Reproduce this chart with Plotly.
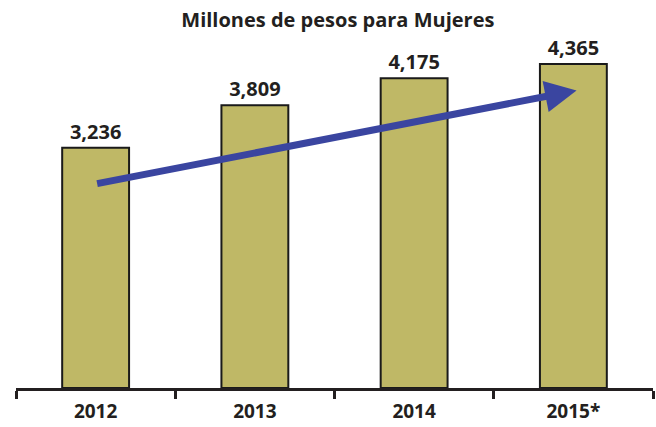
import plotly.graph_objects as go

years = ["2012", "2013", "2014", "2015*"]
amounts = [3236, 3809, 4175, 4365]

# trend arrow endpoints (category index, value)
arrow_start = (0.0, 2750)
arrow_end = (3.02, 4010)

bar_color = "#BFB866"
arrow_color = "#3A45A0"
text_color = "#231F20"
font_family = "Open Sans, Noto Sans, sans-serif"

fig = go.Figure(
    go.Bar(
        x=years,
        y=amounts,
        width=0.42,
        marker=dict(color=bar_color, line=dict(color="#1A1A1A", width=2)),
        text=[f"{v:,}" for v in amounts],
        textposition="outside",
        cliponaxis=False,
        textfont=dict(family=font_family, size=20, color=text_color, weight="bold"),
    )
)

fig.add_annotation(
    x=arrow_end[0], y=arrow_end[1],
    ax=arrow_start[0], ay=arrow_start[1],
    xref="x", yref="y", axref="x", ayref="y",
    showarrow=True, arrowhead=2, arrowsize=0.9, arrowwidth=7,
    arrowcolor=arrow_color, text="",
)

fig.update_layout(
    width=656, height=427,
    margin=dict(l=16, r=3, t=60, b=39),
    paper_bgcolor="white", plot_bgcolor="white",
    showlegend=False,
    title=dict(
        text="Millones de pesos para Mujeres",
        x=0.515, xanchor="center", y=0.953, yanchor="middle",
        font=dict(family=font_family, size=20, color=text_color, weight="bold"),
    ),
    xaxis=dict(
        type="category", range=[-0.5, 3.5],
        showline=True, linecolor="#231F20", linewidth=3,
        ticks="outside", tickson="boundaries", ticklen=8, tickwidth=3, tickcolor="#231F20",
        tickfont=dict(family=font_family, size=19, color=text_color, weight="bold"),
        ticklabelstandoff=4,
        showgrid=False,
    ),
    yaxis=dict(range=[0, 4420], visible=False, showgrid=False),
)

fig.write_html("out.html")
